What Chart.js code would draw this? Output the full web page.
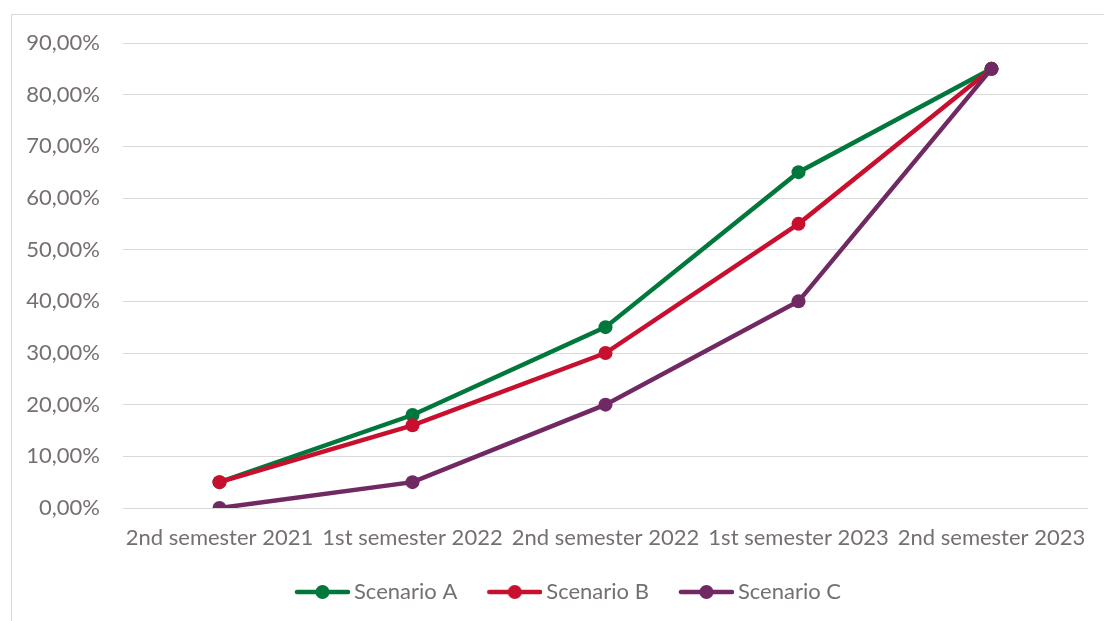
<!DOCTYPE html>
<html lang="en">
<head>
<meta charset="UTF-8">
<title>Scenarios</title>
<script src="https://cdn.jsdelivr.net/npm/chart.js"></script>
<style>
	body { margin: 0; background: #fff; overflow: hidden; }
	.frame { position: absolute; left: 11px; top: 14px; width: 1200px; height: 700px; border: 1px solid #d9d9d9; }
	.holder { position: absolute; left: 12px; top: 15px; width: 1092px; height: 606px; }
</style>
</head>
<body>
<div class="frame"></div>
<div class="holder"><canvas id="scenarioChart"></canvas></div>
<script>
// periods on the x axis
const periods = ['2nd semester 2021', '1st semester 2022', '2nd semester 2022', '1st semester 2023', '2nd semester 2023'];
// values in percent
const scenarioA = [5, 18, 35, 65, 85];
const scenarioB = [5, 16, 30, 55, 85];
const scenarioC = [0, 5, 20, 40, 85];
const seriesNames = ['Scenario A', 'Scenario B', 'Scenario C'];
const seriesColors = ['#00783c', '#c8102e', '#702963'];

const textColor = '#766f70';
const fontFamily = 'Lato, "Open Sans", sans-serif';
const fontSize = 22;

// legend marker: short line with a dot, padded on the left so the
// items get some room between them
function legendMarker(color) {
	const c = document.createElement('canvas');
	c.width = 82;
	c.height = 16;
	const g = c.getContext('2d');
	g.strokeStyle = color;
	g.lineWidth = 4.5;
	g.lineCap = 'round';
	g.beginPath();
	g.moveTo(29, 8);
	g.lineTo(80, 8);
	g.stroke();
	g.fillStyle = color;
	g.beginPath();
	g.arc(54.5, 8, 7, 0, Math.PI * 2);
	g.fill();
	return c;
}
const markers = seriesColors.map(legendMarker);

function makeDataset(i, values) {
	return {
		label: seriesNames[i],
		data: values,
		borderColor: seriesColors[i],
		backgroundColor: seriesColors[i],
		pointBackgroundColor: seriesColors[i],
		pointBorderWidth: 0,
		pointRadius: 7,
		borderWidth: 4.5,
		tension: 0,
		order: 3 - i
	};
}

// nudge the legend row to the right
const legendShift = {
	id: 'legendShift',
	afterLayout(chart) {
		chart.legend.left += 8;
		chart.legend.right += 8;
	}
};

new Chart(document.getElementById('scenarioChart'), {
	type: 'line',
	data: {
		labels: periods,
		datasets: [makeDataset(0, scenarioA), makeDataset(1, scenarioB), makeDataset(2, scenarioC)]
	},
	plugins: [legendShift],
	options: {
		responsive: true,
		maintainAspectRatio: false,
		animation: false,
		layout: {
			padding: { left: 0, right: 16, top: 28, bottom: 8 }
		},
		plugins: {
			tooltip: { enabled: false },
			legend: {
				position: 'bottom',
				labels: {
					color: textColor,
					font: { family: fontFamily, size: fontSize },
					usePointStyle: true,
					pointStyleWidth: 68,
					padding: 10,
					sort: (a, b) => a.datasetIndex - b.datasetIndex,
					generateLabels: function(chart) {
						const items = Chart.defaults.plugins.legend.labels.generateLabels(chart);
						items.forEach(item => { item.pointStyle = markers[item.datasetIndex]; });
						return items;
					}
				}
			}
		},
		scales: {
			x: {
				offset: true,
				grid: { display: false, drawTicks: false },
				border: { display: false },
				ticks: {
					color: textColor,
					font: { family: fontFamily, size: fontSize },
					padding: 17,
					maxRotation: 0,
					autoSkip: false
				},
				afterFit: s => { s.height = 63; s.paddingLeft = 0; s.paddingRight = 0; }
			},
			y: {
				min: 0,
				max: 90,
				grid: { color: '#d9d9d9', lineWidth: 1, drawTicks: false },
				border: { display: false },
				ticks: {
					stepSize: 10,
					color: textColor,
					font: { family: fontFamily, size: fontSize },
					padding: 23,
					callback: v => v.toFixed(2).replace('.', ',') + '%'
				},
				afterFit: s => { s.width = 111; s.paddingTop = 0; s.paddingBottom = 0; }
			}
		}
	}
});
</script>
</body>
</html>
